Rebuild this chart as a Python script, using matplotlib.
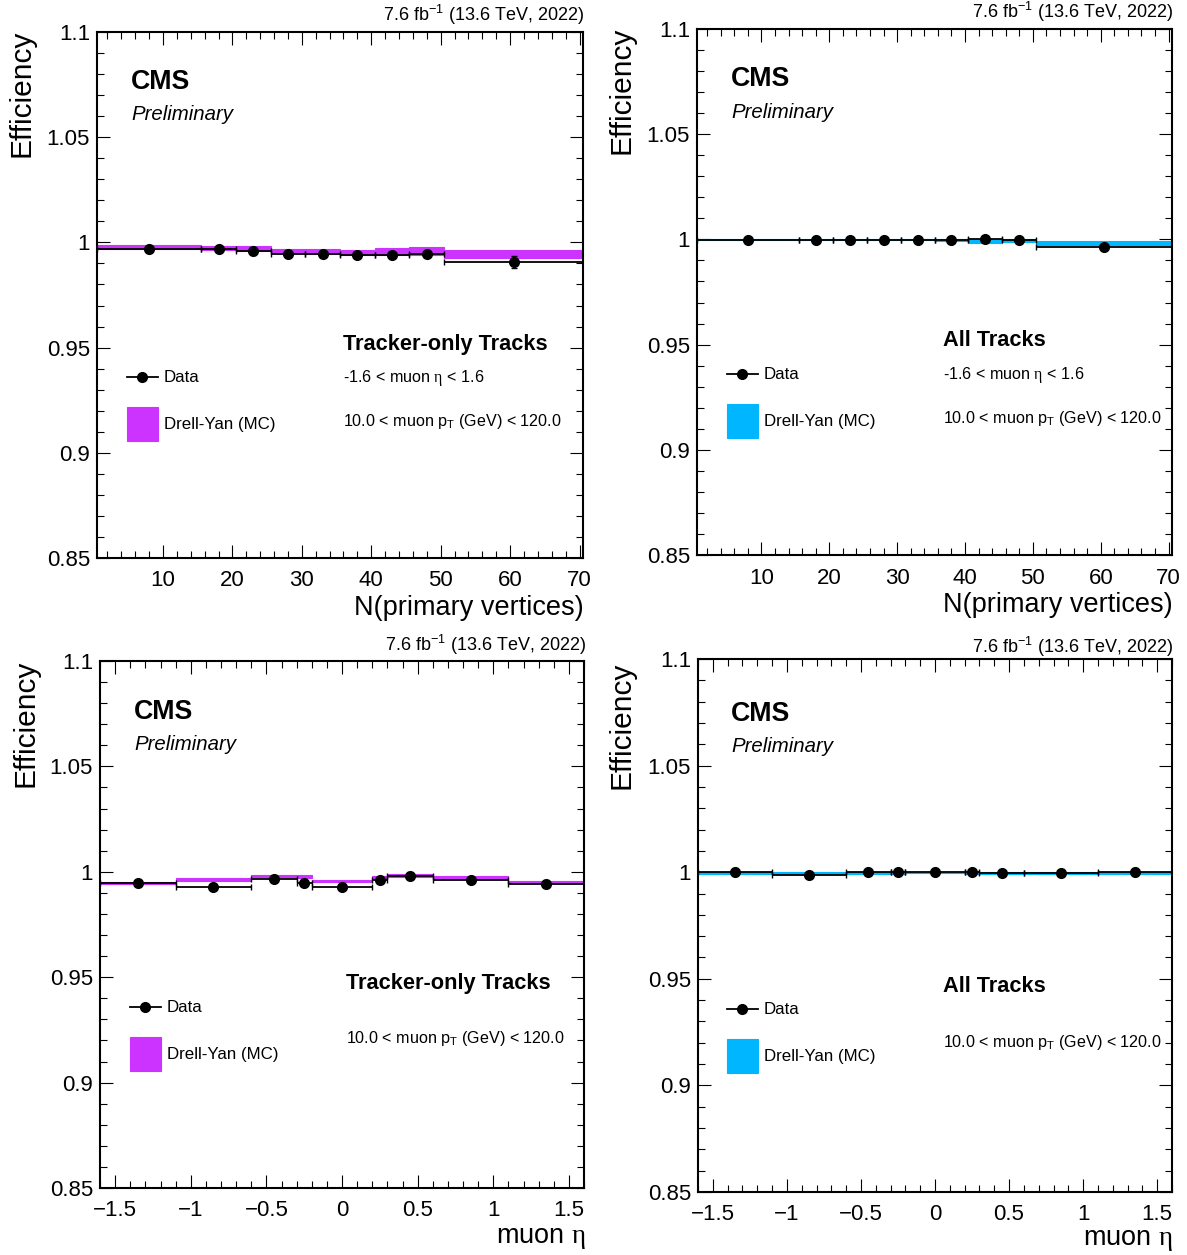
from matplotlib import pyplot as plt
from matplotlib.lines import Line2D
from matplotlib.patches import Rectangle
from matplotlib.ticker import MultipleLocator

import numpy as np

plt.rcParams['font.family'] = ['Liberation Sans', 'DejaVu Sans']
plt.rcParams['mathtext.fontset'] = 'custom'
plt.rcParams['mathtext.rm'] = 'Liberation Serif'
plt.rcParams['mathtext.sf'] = 'Liberation Sans'
plt.rcParams['mathtext.it'] = 'Liberation Sans:italic'

# binning
npv_edges = [0.5, 15.5, 20.5, 25.5, 30.5, 35.5, 40.5, 45.5, 50.5, 70.5]
eta_edges = [-1.6, -1.1, -0.6, -0.3, -0.2, 0.2, 0.3, 0.6, 1.1, 1.6]

# tracker-only tracks vs N(PV)
tk_npv_data = [0.9970, 0.9967, 0.9961, 0.9946, 0.9944, 0.9938, 0.9938, 0.9943, 0.9907]
tk_npv_data_err = [0.0002, 0.0002, 0.0002, 0.0002, 0.0002, 0.0003, 0.0003, 0.0004, 0.0028]
tk_npv_mc = [0.9979, 0.9975, 0.9972, 0.9961, 0.9957, 0.9952, 0.9956, 0.9960, 0.9946]
tk_npv_mc_err = [0.0008, 0.0009, 0.0012, 0.0010, 0.0011, 0.0012, 0.0016, 0.0018, 0.0019]

# all tracks vs N(PV)
all_npv_data = [0.9998, 0.9998, 0.9996, 0.9998, 0.9998, 0.9996, 1.0001, 0.9995, 0.9964]
all_npv_data_err = [0.0001, 0.0001, 0.0001, 0.0001, 0.0001, 0.0001, 0.0001, 0.0002, 0.0005]
all_npv_mc = [0.9999, 0.9999, 0.9999, 0.9999, 0.9999, 0.9998, 0.9993, 0.9995, 0.9984]
all_npv_mc_err = [0.0004, 0.0004, 0.0004, 0.0004, 0.0004, 0.0004, 0.0008, 0.0006, 0.0010]

# tracker-only tracks vs eta
tk_eta_data = [0.9946, 0.9930, 0.9967, 0.9945, 0.9927, 0.9961, 0.9980, 0.9963, 0.9940]
tk_eta_data_err = [0.0003, 0.0003, 0.0003, 0.0004, 0.0003, 0.0004, 0.0003, 0.0003, 0.0003]
tk_eta_mc = [0.9946, 0.9963, 0.9978, 0.9979, 0.9955, 0.9973, 0.9983, 0.9972, 0.9950]
tk_eta_mc_err = [0.0006, 0.0007, 0.0005, 0.0007, 0.0004, 0.0008, 0.0006, 0.0008, 0.0005]

# all tracks vs eta
all_eta_data = [1.0001, 0.9987, 1.0001, 1.0000, 1.0001, 1.0001, 0.9996, 0.9997, 1.0001]
all_eta_data_err = [0.0001, 0.0001, 0.0001, 0.0001, 0.0001, 0.0001, 0.0001, 0.0001, 0.0001]
all_eta_mc = [0.9996, 0.9996, 0.9996, 0.9996, 0.9997, 0.9996, 0.9996, 0.9996, 0.9996]
all_eta_mc_err = [0.0003, 0.0003, 0.0003, 0.0003, 0.0003, 0.0003, 0.0003, 0.0003, 0.0003]

pink = '#cc33ff'
blue = '#00b7ff'

W, H = 1187, 1255
fig = plt.figure(figsize=(W / 100, H / 100), dpi=100)


def fx(x):
    return x / W


def fy(y):
    return 1 - y / H


def draw_panel(box, edges, data, data_err, mc, mc_err, color, xmajor, xminor):
    left, top, right, bottom = box
    ax = fig.add_axes([fx(left), fy(bottom), fx(right - left), (bottom - top) / H])
    edges = np.array(edges)
    centers = (edges[:-1] + edges[1:]) / 2
    widths = np.diff(edges)
    mc = np.array(mc)
    mc_err = np.array(mc_err)

    ax.bar(centers, 2 * mc_err, bottom=mc - mc_err, width=widths,
           color=color, edgecolor=color, linewidth=0.8, zorder=2)
    ax.errorbar(centers, data, xerr=widths / 2, yerr=data_err, fmt='o',
                color='k', ms=7, elinewidth=1.3, capsize=2, capthick=1,
                zorder=3)

    ax.set_xlim(edges[0], edges[-1])
    ax.set_ylim(0.85, 1.1)
    ax.xaxis.set_major_locator(MultipleLocator(xmajor))
    ax.xaxis.set_minor_locator(MultipleLocator(xminor))
    ax.yaxis.set_major_locator(MultipleLocator(0.05))
    ax.yaxis.set_minor_locator(MultipleLocator(0.01))
    ax.yaxis.set_major_formatter(lambda v, p: f'{v:.2f}'.rstrip('0').rstrip('.'))
    ax.xaxis.set_major_formatter(lambda v, p: f'{v:g}'.replace('-', '\u2212'))
    ax.tick_params(which='both', direction='in', top=True, right=True,
                   labelsize=16, width=0.8)
    ax.tick_params(which='major', length=9.5)
    ax.tick_params(axis='x', which='major', pad=9)
    ax.tick_params(axis='y', which='major', pad=5)
    ax.tick_params(which='minor', length=5)
    for s in ax.spines.values():
        s.set_linewidth(1.5)
    return ax


def decorate(ox, oy, color, title, title_y, lines, xlabel, right_px):
    # ox, oy: pixel offsets of the panel's text block
    fig.text(fx(ox + 34), fy(oy + 82), 'CMS', fontsize=19.3, fontweight='bold',
             va='center')
    fig.text(fx(ox + 34), fy(oy + 115), 'Preliminary', fontsize=14.7,
             style='italic', va='center')
    fig.text(fx(right_px), fy(oy + 15), r'7.6 fb$^{\mathsf{-1}}$ (13.6 TeV, 2022)',
             fontsize=13, ha='right', va='center')
    fig.text(fx(ox - 75), fy(oy + 30), 'Efficiency', fontsize=21.5,
             rotation=90, ha='center', va='top')
    fig.text(fx(right_px), fy(oy + 608), xlabel, fontsize=19.5,
             ha='right', va='center')
    fig.text(fx(ox + 246), fy(oy + title_y), title, fontsize=15.7,
             fontweight='bold', va='center')
    for ln, yy in lines:
        fig.text(fx(ox + 246), fy(oy + yy), ln, fontsize=11.6, va='center')
    # legend
    fig.add_artist(Line2D([fx(ox + 30), fx(ox + 61)], [fy(oy + 377)] * 2,
                          color='k', lw=1.3, transform=fig.transFigure))
    fig.add_artist(Line2D([fx(ox + 45)], [fy(oy + 377)], marker='o', ms=7,
                          color='k', transform=fig.transFigure))
    fig.text(fx(ox + 67), fy(oy + 377), 'Data', fontsize=12.2, va='center')
    fig.add_artist(Rectangle((fx(ox + 30), fy(oy + 441)), 31 / W, 34 / H,
                             facecolor=color, edgecolor=color, lw=0.8,
                             transform=fig.transFigure))
    fig.text(fx(ox + 67), fy(oy + 424), 'Drell-Yan (MC)', fontsize=12.2,
             va='center')


eta_txt = r'-1.6 < muon $\mathrm{\eta}$ < 1.6'
pt_txt = r'10.0 < muon p$_{\mathsf{T}}$ (GeV) < 120.0'

draw_panel((97, 32, 583, 558), npv_edges, tk_npv_data, tk_npv_data_err,
           tk_npv_mc, tk_npv_mc_err, pink, 10, 2)
decorate(97, 0, pink, 'Tracker-only Tracks', 344,
         [(eta_txt, 378), (pt_txt, 421)], 'N(primary vertices)', 584)

draw_panel((697, 29, 1172, 555), npv_edges, all_npv_data, all_npv_data_err,
           all_npv_mc, all_npv_mc_err, blue, 10, 2)
decorate(697, -3, blue, 'All Tracks', 343,
         [(eta_txt, 378), (pt_txt, 421)], 'N(primary vertices)', 1173)

draw_panel((100, 661, 584, 1188), eta_edges, tk_eta_data, tk_eta_data_err,
           tk_eta_mc, tk_eta_mc_err, pink, 0.5, 0.1)
decorate(100, 630, pink, 'Tracker-only Tracks', 354,
         [(pt_txt, 409)], r'muon $\mathrm{\eta}$', 586)

draw_panel((698, 659, 1172, 1192), eta_edges, all_eta_data, all_eta_data_err,
           all_eta_mc, all_eta_mc_err, blue, 0.5, 0.1)
decorate(697, 632, blue, 'All Tracks', 354,
         [(pt_txt, 410)], r'muon $\mathrm{\eta}$', 1173)

fig.savefig('out.png', dpi=100)
